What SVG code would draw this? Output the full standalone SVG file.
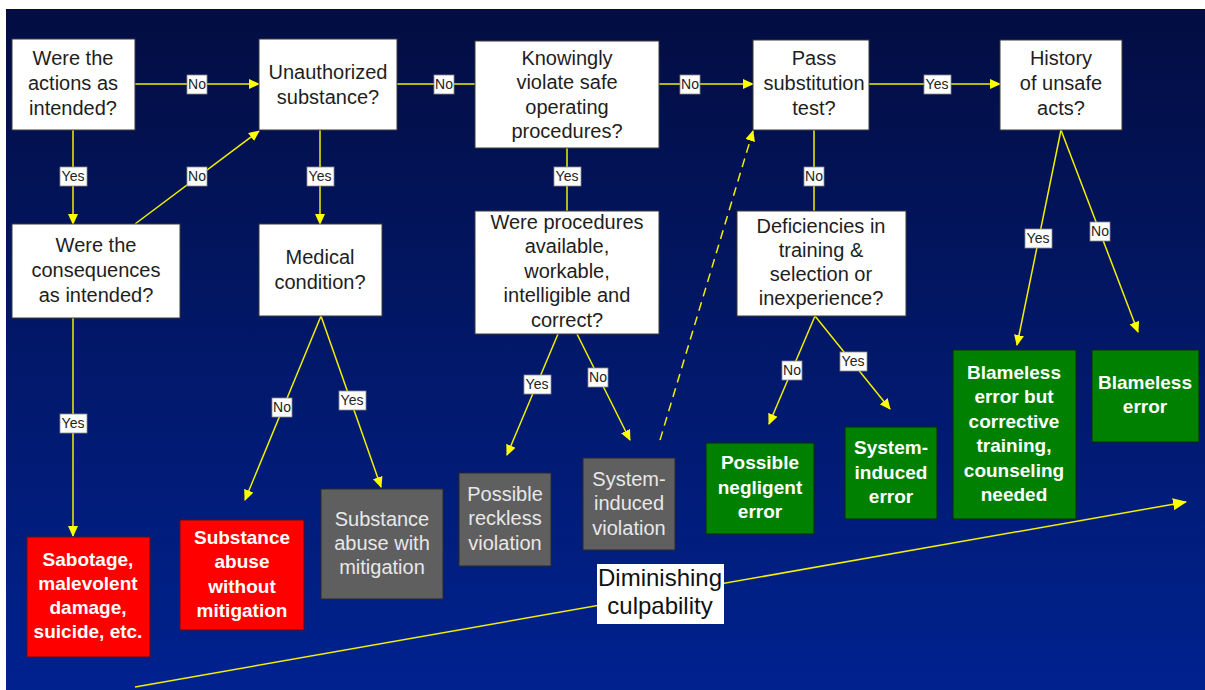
<svg xmlns="http://www.w3.org/2000/svg" width="1205" height="690" viewBox="0 0 1205 690">
<defs>
<linearGradient id="bg" x1="0" y1="0" x2="0" y2="1">
<stop offset="0" stop-color="#030d42"/>
<stop offset="1" stop-color="#00228f"/>
</linearGradient>
<marker id="ah" markerUnits="userSpaceOnUse" markerWidth="11" markerHeight="10" refX="10" refY="5" orient="auto" viewBox="0 0 11 10">
<path d="M0,0 L11,5 L0,10 z" fill="#ffff00"/>
</marker>
<marker id="ahb" markerUnits="userSpaceOnUse" markerWidth="14" markerHeight="12" refX="13" refY="6" orient="auto" viewBox="0 0 14 12">
<path d="M0,0 L14,6 L0,12 z" fill="#ffff00"/>
</marker>
<style>
.q rect{fill:#ffffff;stroke:#3a3a3a;stroke-width:1}
.q text{font-family:"Liberation Sans",Arial,sans-serif;font-size:20px;fill:#1e1e1e;text-anchor:middle}
.red rect{fill:#ff0000;stroke:#5a1020;stroke-width:1}
.grn rect{fill:#008000;stroke:#0a2a0a;stroke-width:1}
.gry rect{fill:#5f5f5f;stroke:#2a2a2a;stroke-width:1}
.red text,.grn text{font-family:"Liberation Sans",Arial,sans-serif;font-size:19px;font-weight:bold;fill:#ffffff;text-anchor:middle}
.gry text{font-family:"Liberation Sans",Arial,sans-serif;font-size:20px;fill:#e8e8e8;text-anchor:middle}
.c{stroke:#f0f000;stroke-width:1.5;fill:none}
.lb rect{fill:#ffffff;stroke:#8a8a8a;stroke-width:0.8}
.lb text{font-family:"Liberation Sans",Arial,sans-serif;font-size:14px;fill:#222;text-anchor:middle}
</style>
</defs>
<rect x="0" y="0" width="1205" height="690" fill="#ffffff"/>
<rect x="6" y="9" width="1199" height="681" fill="url(#bg)"/>

<g id="connectors">
<line class="c" x1="135" y1="84" x2="259" y2="84" marker-end="url(#ah)"/>
<line class="c" x1="397" y1="84" x2="475" y2="84"/>
<line class="c" x1="659" y1="84" x2="753" y2="84" marker-end="url(#ah)"/>
<line class="c" x1="869" y1="84" x2="1000" y2="84" marker-end="url(#ah)"/>
<line class="c" x1="73" y1="130" x2="73" y2="224" marker-end="url(#ah)"/>
<line class="c" x1="135" y1="224" x2="259" y2="131" marker-end="url(#ah)"/>
<line class="c" x1="73" y1="318" x2="73" y2="536" marker-end="url(#ah)"/>
<line class="c" x1="320" y1="130" x2="320" y2="224" marker-end="url(#ah)"/>
<line class="c" x1="321" y1="316" x2="245" y2="500" marker-end="url(#ah)"/>
<line class="c" x1="321" y1="316" x2="381" y2="487" marker-end="url(#ah)"/>
<line class="c" x1="567" y1="148" x2="567" y2="211"/>
<line class="c" x1="558" y1="334" x2="507" y2="455" marker-end="url(#ah)"/>
<line class="c" x1="577" y1="334" x2="630" y2="440" marker-end="url(#ah)"/>
<line class="c" x1="660" y1="440" x2="753" y2="131" stroke-dasharray="9,6" marker-end="url(#ah)"/>
<line class="c" x1="814" y1="130" x2="814" y2="211"/>
<line class="c" x1="815" y1="316" x2="769" y2="424" marker-end="url(#ah)"/>
<line class="c" x1="815" y1="316" x2="890" y2="409" marker-end="url(#ah)"/>
<line class="c" x1="1061" y1="130" x2="1017" y2="345" marker-end="url(#ah)"/>
<line class="c" x1="1061" y1="130" x2="1138" y2="332" marker-end="url(#ah)"/>
<line class="c" x1="135" y1="687" x2="1186" y2="502" marker-end="url(#ahb)"/>
</g>

<g id="nA" class="q"><rect x="12" y="39" width="123" height="91"/>
<text x="73" y="65">Were the</text><text x="73" y="90">actions as</text><text x="73" y="115">intended?</text></g>
<g id="nB" class="q"><rect x="259" y="39" width="138" height="91"/>
<text x="328" y="79">Unauthorized</text><text x="328" y="104">substance?</text></g>
<g id="nC" class="q"><rect x="475" y="41" width="184" height="107"/>
<text x="567" y="65">Knowingly</text><text x="567" y="89">violate safe</text><text x="567" y="114">operating</text><text x="567" y="138">procedures?</text></g>
<g id="nD" class="q"><rect x="753" y="40" width="116" height="90"/>
<text x="814" y="65">Pass</text><text x="814" y="90">substitution</text><text x="814" y="115">test?</text></g>
<g id="nE" class="q"><rect x="1000" y="40" width="122" height="90"/>
<text x="1061" y="65">History</text><text x="1061" y="90">of unsafe</text><text x="1061" y="115">acts?</text></g>
<g id="nF" class="q"><rect x="12" y="224" width="168" height="94"/>
<text x="96" y="252">Were the</text><text x="96" y="277">consequences</text><text x="96" y="302">as intended?</text></g>
<g id="nH" class="q"><rect x="259" y="224" width="123" height="92"/>
<text x="320" y="264">Medical</text><text x="320" y="289">condition?</text></g>
<g id="nK" class="q"><rect x="475" y="211" width="184" height="123"/>
<text x="567" y="229">Were procedures</text><text x="567" y="253">available,</text><text x="567" y="278">workable,</text><text x="567" y="302">intelligible and</text><text x="567" y="327">correct?</text></g>
<g id="nN" class="q"><rect x="737" y="211" width="169" height="105"/>
<text x="821" y="233">Deficiencies in</text><text x="821" y="257">training &amp;</text><text x="821" y="281">selection or</text><text x="821" y="305">inexperience?</text></g>

<g id="nG" class="red"><rect x="27" y="537" width="123" height="120"/>
<text x="88" y="566">Sabotage,</text><text x="88" y="590">malevolent</text><text x="88" y="614">damage,</text><text x="88" y="638">suicide, etc.</text></g>
<g id="nI" class="red"><rect x="180" y="520" width="124" height="110"/>
<text x="242" y="544">Substance</text><text x="242" y="568">abuse</text><text x="242" y="593">without</text><text x="242" y="617">mitigation</text></g>
<g id="nJ" class="gry"><rect x="321" y="489" width="122" height="110"/>
<text x="382" y="526">Substance</text><text x="382" y="550">abuse with</text><text x="382" y="574">mitigation</text></g>
<g id="nL" class="gry"><rect x="459" y="473" width="92" height="93"/>
<text x="505" y="501">Possible</text><text x="505" y="525">reckless</text><text x="505" y="550">violation</text></g>
<g id="nM" class="gry"><rect x="583" y="458" width="92" height="92"/>
<text x="629" y="486">System-</text><text x="629" y="510">induced</text><text x="629" y="535">violation</text></g>
<g id="nO" class="grn"><rect x="706" y="443" width="108" height="91"/>
<text x="760" y="469">Possible</text><text x="760" y="494">negligent</text><text x="760" y="518">error</text></g>
<g id="nP" class="grn"><rect x="845" y="427" width="92" height="92"/>
<text x="891" y="454">System-</text><text x="891" y="479">induced</text><text x="891" y="503">error</text></g>
<g id="nQ" class="grn"><rect x="953" y="350" width="123" height="169"/>
<text x="1014" y="379">Blameless</text><text x="1014" y="403">error but</text><text x="1014" y="428">corrective</text><text x="1014" y="452">training,</text><text x="1014" y="477">counseling</text><text x="1014" y="501">needed</text></g>
<g id="nR" class="grn"><rect x="1092" y="350" width="107" height="92"/>
<text x="1145" y="389">Blameless</text><text x="1145" y="413">error</text></g>

<g id="nDim"><rect x="597" y="564" width="127" height="60" fill="#ffffff"/>
<text x="660" y="586" font-family="'Liberation Sans',Arial,sans-serif" font-size="24" fill="#111" text-anchor="middle">Diminishing</text>
<text x="660" y="614" font-family="'Liberation Sans',Arial,sans-serif" font-size="24" fill="#111" text-anchor="middle">culpability</text></g>

<g id="labels">
<g class="lb"><rect x="187" y="75" width="20" height="19"/><text x="197" y="89">No</text></g>
<g class="lb"><rect x="434" y="75" width="20" height="19"/><text x="444" y="89">No</text></g>
<g class="lb"><rect x="680" y="75" width="20" height="19"/><text x="690" y="89">No</text></g>
<g class="lb"><rect x="924" y="75" width="27" height="19"/><text x="937" y="89">Yes</text></g>
<g class="lb"><rect x="60" y="167" width="27" height="19"/><text x="73" y="181">Yes</text></g>
<g class="lb"><rect x="187" y="167" width="20" height="19"/><text x="197" y="181">No</text></g>
<g class="lb"><rect x="307" y="167" width="27" height="19"/><text x="320" y="181">Yes</text></g>
<g class="lb"><rect x="554" y="167" width="27" height="19"/><text x="567" y="181">Yes</text></g>
<g class="lb"><rect x="804" y="167" width="20" height="19"/><text x="814" y="181">No</text></g>
<g class="lb"><rect x="60" y="414" width="27" height="19"/><text x="73" y="428">Yes</text></g>
<g class="lb"><rect x="272" y="398" width="20" height="19"/><text x="282" y="412">No</text></g>
<g class="lb"><rect x="339" y="391" width="27" height="19"/><text x="352" y="405">Yes</text></g>
<g class="lb"><rect x="524" y="375" width="27" height="19"/><text x="537" y="389">Yes</text></g>
<g class="lb"><rect x="588" y="368" width="20" height="19"/><text x="598" y="382">No</text></g>
<g class="lb"><rect x="782" y="361" width="20" height="19"/><text x="792" y="375">No</text></g>
<g class="lb"><rect x="840" y="352" width="27" height="19"/><text x="853" y="366">Yes</text></g>
<g class="lb"><rect x="1025" y="229" width="27" height="19"/><text x="1038" y="243">Yes</text></g>
<g class="lb"><rect x="1090" y="222" width="20" height="19"/><text x="1100" y="236">No</text></g>
</g>
</svg>
